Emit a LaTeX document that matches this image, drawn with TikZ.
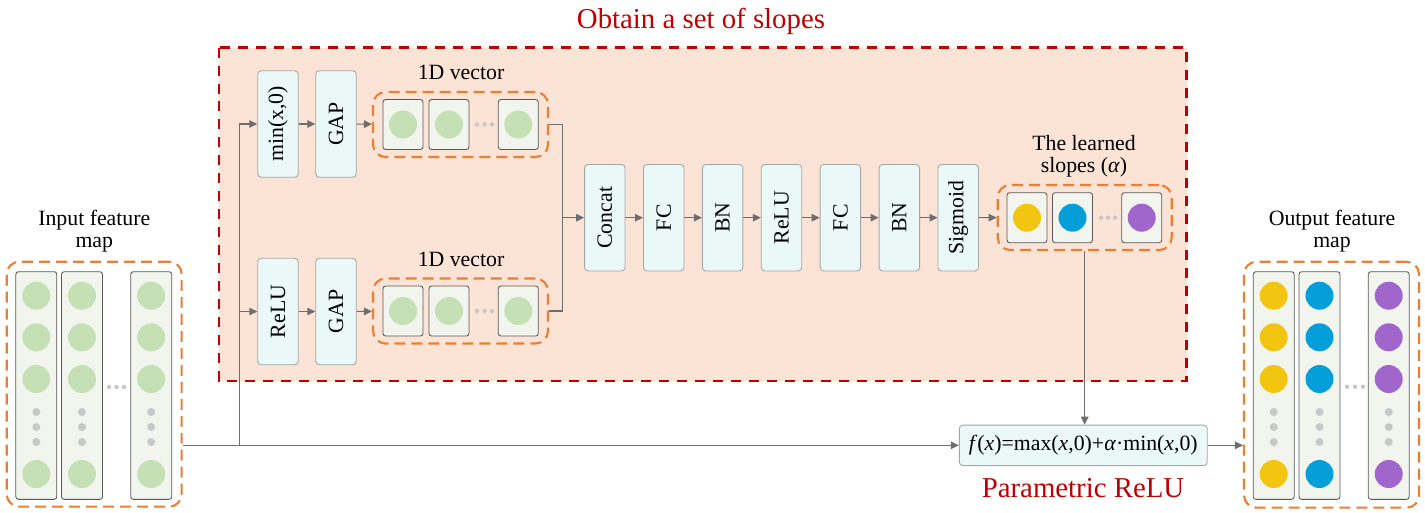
\documentclass[tikz,border=0pt]{standalone}
\usepackage{fontspec}
\setmainfont{Liberation Serif}
\usetikzlibrary{arrows.meta}
\usetikzlibrary{positioning}

\definecolor{slopered}{HTML}{C00000}
\definecolor{slopefill}{HTML}{FBE3D6}
\definecolor{grouporange}{HTML}{ED7D31}
\definecolor{blockfill}{HTML}{EAF8F8}
\definecolor{blockline}{HTML}{A6A6A6}
\definecolor{cellfill}{HTML}{F2F5EE}
\definecolor{cellline}{HTML}{595959}
\definecolor{wirecol}{HTML}{6E6E6E}
\definecolor{dotgray}{HTML}{C8C8C8}
\definecolor{featgreen}{HTML}{C5E0B4}
\definecolor{alphayellow}{HTML}{F2C511}
\definecolor{alphablue}{HTML}{049FD9}
\definecolor{alphapurple}{HTML}{A066CB}

\tikzset{
  block/.style={draw=blockline, fill=blockfill, rounded corners=2pt, line width=0.5pt, minimum width=0.81cm, minimum height=2.13cm, inner sep=0pt, font=\fontsize{12.4}{14}\selectfont},
  group/.style={draw=grouporange, line width=1.2pt, dash pattern=on 0.22cm off 0.12cm, rounded corners=0.25cm, inner sep=0pt},
  cell/.style={draw=cellline, fill=cellfill, rounded corners=1.5pt, line width=0.5pt},
  wire/.style={draw=wirecol, line width=0.6pt},
  conn/.style={wire, -{Triangle[length=0.16cm,width=0.15cm]}},
  caption/.style={font=\fontsize{12.4}{12.6}\selectfont, align=center},
  redtitle/.style={text=slopered, font=\fontsize{16.4}{18}\selectfont},
}

\begin{document}
\begin{tikzpicture}[x=0.02cm, y=-0.02cm]
\useasboundingbox (0,0) rectangle (1425,512);

% slope branch
\draw[slopered, fill=slopefill, line width=1.4pt, dash pattern=on 0.2cm off 0.16cm] (219,47.5) rectangle (1186.5,381);
\node[redtitle] (ttl) at (701,21) {Obtain a set of slopes};

\node[block] (minx) at (278,124) {\rotatebox{90}{min(x,0)}};
\node[block] (gapA) at (336,124) {\rotatebox{90}{GAP}};
\node[block] (relA) at (278,311.5) {\rotatebox{90}{ReLU}};
\node[block] (gapB) at (336,311.5) {\rotatebox{90}{GAP}};

\node[group, minimum width=3.5cm, minimum height=1.3cm] (vecA) at (460.5,124.5) {};
\node[group, minimum width=3.5cm, minimum height=1.3cm] (vecB) at (460.5,311) {};
\node[caption] (capA) at (461,72) {1D vector};
\node[caption] (capB) at (461,259) {1D vector};
\foreach \y in {124.5,311}{
  \foreach \x in {403,449,518.3}{
    \draw[cell] ({\x-20},{\y-25}) rectangle ({\x+20},{\y+25});
    \fill[featgreen] (\x,\y) circle (0.28cm);
  }
  \foreach \x in {477,484.5,492}
    \fill[dotgray] (\x,\y) circle (0.045cm);
}

\foreach \t/\n [count=\i] in {Concat/cat, FC/fcA, BN/bnA, ReLU/relB, FC/fcB, BN/bnB, Sigmoid/sig}
  \node[block] (\n) at ({604.8+(\i-1)*58.9},217.7) {\rotatebox{90}{\t}};

\node[group, minimum width=3.48cm, minimum height=1.3cm] (alph) at (1084.7,217.5) {};
\node[caption] (capC) at (1084,156) {The learned\\slopes (\textit{α})};
\foreach \x/\c in {1027/alphayellow, 1072.5/alphablue, 1141.7/alphapurple}{
  \draw[cell] ({\x-20},192.7) rectangle ({\x+20},242.7);
  \fill[\c] (\x,217.7) circle (0.28cm);
}
\foreach \x in {1101,1108,1115}
  \fill[dotgray] (\x,217.7) circle (0.045cm);

% parametric relu
\node[block, minimum width=4.96cm, minimum height=0.81cm] (prelu) at (1083.3,445.3) {\textit{f}(\textit{x})=max(\textit{x},0)+\textit{α}·min(\textit{x},0)};
\node[redtitle] (prl) at (1083,488) {Parametric ReLU};

% feature maps
\node[group, minimum width=3.5cm, minimum height=4.9cm] (infm) at (94.2,384.2) {};
\node[caption] (capI) at (94.3,231.5) {Input feature\\map};
\foreach \x in {36.3,82,151.2}{
  \draw[cell] ({\x-20.5},271.7) rectangle ({\x+20.5},499.3);
  \foreach \y in {295.7,337.3,379,474}
    \fill[featgreen] (\x,\y) circle (0.28cm);
  \foreach \y in {412,427,442}
    \fill[dotgray] (\x,\y) circle (0.08cm);
}
\foreach \x in {109,116.5,124}
  \fill[dotgray] (\x,387) circle (0.045cm);

\node[group, minimum width=3.5cm, minimum height=4.92cm] (outfm) at (1331.5,384.7) {};
\node[caption] (capO) at (1332,231.5) {Output feature\\map};
\foreach \x/\c in {1273.7/alphayellow, 1319.5/alphablue, 1388.7/alphapurple}{
  \draw[cell] ({\x-20.5},271.7) rectangle ({\x+20.5},499.3);
  \foreach \y in {295.7,337.3,379,474}
    \fill[\c] (\x,\y) circle (0.28cm);
  \foreach \y in {412,427,442}
    \fill[dotgray] (\x,\y) circle (0.08cm);
}
\foreach \x in {1347,1355,1363}
  \fill[dotgray] (\x,386.7) circle (0.045cm);

% connectors
\coordinate (split) at (239.5,445.3);
\coordinate (merge) at (562.7,217.7);
\draw[conn] (infm.east |- prelu.west) -- (prelu.west);
\draw[conn] (split) |- (minx.west);
\draw[conn] (split) |- (relA.west);
\draw[conn] (minx) -- (gapA);
\draw[conn] (gapA) -- (vecA);
\draw[conn] (relA) -- (gapB);
\draw[conn] (gapB) -- (vecB);
\draw[wire] (vecA.east) -| (merge);
\draw[wire] (vecB.east) -| (merge);
\draw[conn] (merge) -- (cat.west);
\foreach \a/\b in {cat/fcA, fcA/bnA, bnA/relB, relB/fcB, fcB/bnB, bnB/sig, sig/alph}
  \draw[conn] (\a) -- (\b);
\draw[conn] (alph.south) -- (alph.south |- prelu.north);
\draw[conn] (prelu.east) -- (prelu.east -| outfm.west);
\end{tikzpicture}
\end{document}
